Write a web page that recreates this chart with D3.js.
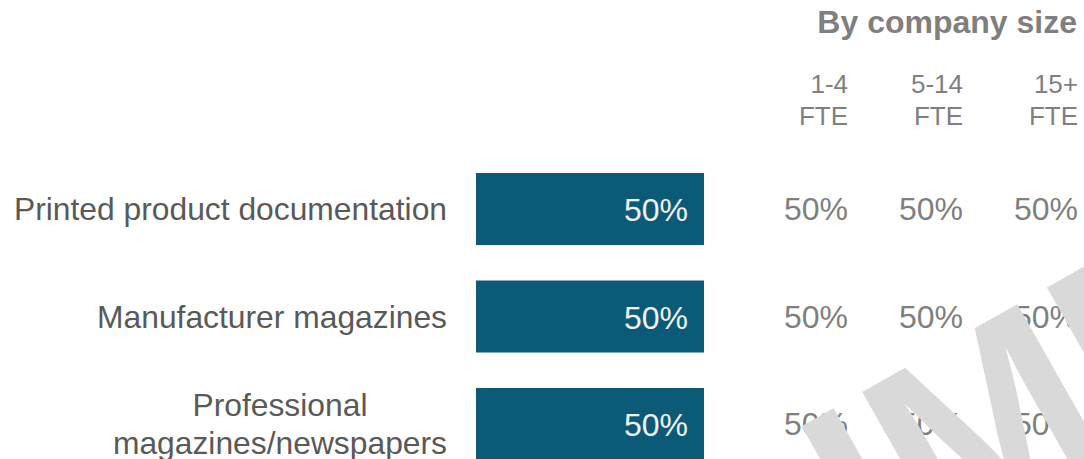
<!DOCTYPE html>
<html>
<head>
<meta charset="utf-8">
<script src="https://cdn.jsdelivr.net/npm/d3@7"></script>
<style>
  body { margin: 0; background: #fff; }
  svg { display: block; font-family: Arial, "Liberation Sans", sans-serif; }
</style>
</head>
<body>
<svg id="chart" width="1084" height="459"></svg>
<script>
// data
const categories = ['Printed product documentation', 'Manufacturer magazines', 'Professional\nmagazines/newspapers'];
const totalValues = [50, 50, 50];
const sizeGroups = ['1-4\nFTE', '5-14\nFTE', '15+\nFTE'];
const sizeValues = [
  [50, 50, 50],
  [50, 50, 50],
  [50, 50, 50]
];
const panelTitle = 'By company size';
const watermark = 'DUMMY';

const svg = d3.select('#chart');

let y = d3.scaleBand().domain(categories).range([173, 460]).paddingInner(0.33).paddingOuter(0);
let x = d3.scaleLinear().domain([0, 100]).range([476, 932]);
let col = d3.scalePoint().domain(sizeGroups).range([848, 1078]);

// title
svg.append('text')
  .attr('x', 1077).attr('y', 33)
  .attr('text-anchor', 'end')
  .attr('font-size', 32).attr('font-weight', 'bold')
  .attr('fill', '#7f7f7f')
  .text(panelTitle);

// column headers
sizeGroups.forEach(function(g) {
  let t = svg.append('text')
    .attr('text-anchor', 'end')
    .attr('font-size', 26)
    .attr('fill', '#7f7f7f');
  g.split('\n').forEach(function(line, i) {
    t.append('tspan').attr('x', col(g)).attr('y', 93 + i * 32).text(line);
  });
});

// category labels (lines centred on each other, block right aligned)
const labelRight = 447;
categories.forEach(function(c) {
  let lines = c.split('\n');
  let cy = y(c) + y.bandwidth() / 2;
  let g = svg.append('g');
  let texts = lines.map(function(line, i) {
    return g.append('text')
      .attr('y', cy + 11 + (i - (lines.length - 1) / 2) * 38)
      .attr('text-anchor', 'middle')
      .attr('font-size', 31.8)
      .attr('fill', '#595959')
      .text(line);
  });
  let w = d3.max(texts, function(t) { return t.node().getComputedTextLength(); });
  texts.forEach(function(t) { t.attr('x', labelRight - w / 2); });
});

// bars
svg.selectAll('rect.bar')
  .data(categories)
  .join('rect')
  .attr('class', 'bar')
  .attr('x', x(0))
  .attr('y', function(d) { return y(d); })
  .attr('width', function(d, i) { return x(totalValues[i]) - x(0); })
  .attr('height', y.bandwidth())
  .attr('fill', '#0b5b78');

svg.selectAll('text.barlabel')
  .data(categories)
  .join('text')
  .attr('class', 'barlabel')
  .attr('x', function(d, i) { return x(totalValues[i]) - 16; })
  .attr('y', function(d) { return y(d) + y.bandwidth() / 2 + 12; })
  .attr('text-anchor', 'end')
  .attr('font-size', 32)
  .attr('fill', '#f2f2f2')
  .text(function(d, i) { return totalValues[i] + '%'; });

// by size values
categories.forEach(function(c, i) {
  sizeGroups.forEach(function(g, j) {
    svg.append('text')
      .attr('x', col(g))
      .attr('y', y(c) + y.bandwidth() / 2 + 11)
      .attr('text-anchor', 'end')
      .attr('font-size', 32)
      .attr('fill', '#7f7f7f')
      .text(sizeValues[i][j] + '%');
  });
});

// watermark
const wmSize = 255;
let wm = svg.append('text')
  .attr('font-size', wmSize)
  .attr('font-weight', 'bold')
  .attr('fill', '#d9d9d9')
  .text(watermark);
let pre = wm.node().getSubStringLength(0, 2);
let capH = 0.716 * wmSize;
wm.attr('x', -pre - 0.073 * wmSize)
  .attr('transform', 'translate(' + (860 + 0.492 * capH) + ',' + (385 + 0.870 * capH) + ') rotate(-29.5)');
</script>
</body>
</html>
